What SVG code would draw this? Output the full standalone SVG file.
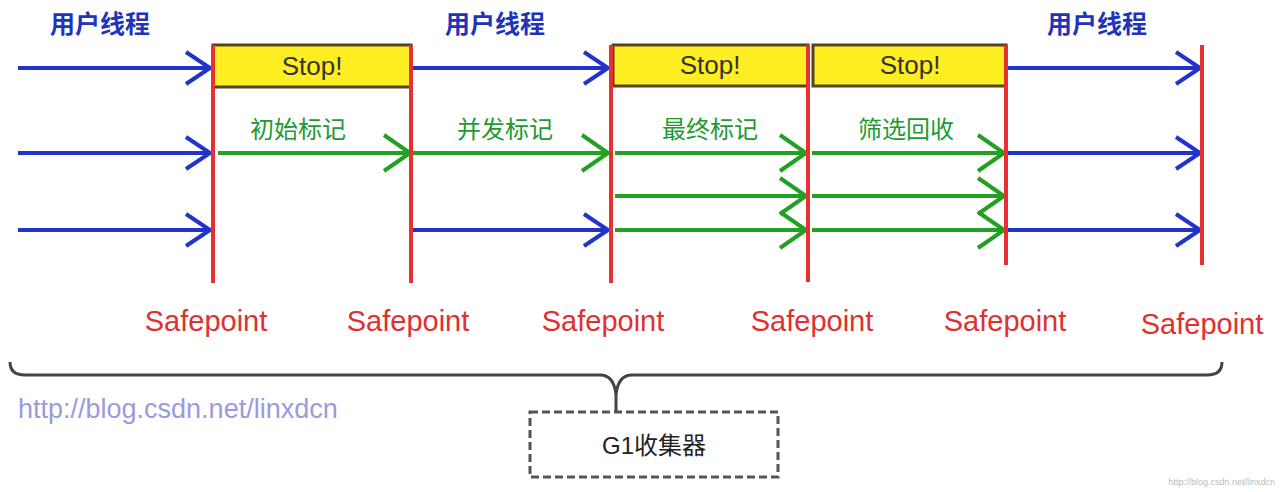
<svg xmlns="http://www.w3.org/2000/svg" width="1282" height="492" viewBox="0 0 1282 492">
<style>
.b{stroke:#2233cc;stroke-width:4;fill:none}
.g{stroke:#22a022;stroke-width:4;fill:none}
.r{stroke:#e83030;stroke-width:4}
.y{fill:#ffee22;stroke:#554422;stroke-width:3}
.t{font-family:"Liberation Sans","Noto Sans CJK SC",sans-serif}
.ut{fill:#2233bb;font-size:25px;font-weight:bold}
.gt{fill:#229933;font-size:24px}
.st{fill:#333;font-size:26px}
.sp{fill:#e03030;font-size:29px}
</style>
<defs>
<marker id="ab" markerUnits="userSpaceOnUse" markerWidth="30" markerHeight="40" refX="26" refY="18" orient="auto"><path d="M2 2 L26 18 L2 34" class="b"/></marker>
<marker id="ag" markerUnits="userSpaceOnUse" markerWidth="34" markerHeight="44" refX="28" refY="20" orient="auto"><path d="M2 2 L28 20 L2 38" class="g"/></marker>
</defs>
<g id="stops">
<rect class="y" x="213" y="45" width="198" height="42"/>
<rect class="y" x="613" y="45" width="195" height="41"/>
<rect class="y" x="813" y="45" width="193" height="41"/>
<text class="t st" x="312" y="75" text-anchor="middle">Stop!</text>
<text class="t st" x="710" y="74" text-anchor="middle">Stop!</text>
<text class="t st" x="910" y="74" text-anchor="middle">Stop!</text>
</g>
<g id="connectors">
<path class="b" marker-end="url(#ab)" d="M18 68H210"/>
<path class="b" marker-end="url(#ab)" d="M18 153H210"/>
<path class="b" marker-end="url(#ab)" d="M18 230H210"/>
<path class="b" marker-end="url(#ab)" d="M413 68H608"/>
<path class="b" marker-end="url(#ab)" d="M413 230H608"/>
<path class="b" marker-end="url(#ab)" d="M1008 68H1200"/>
<path class="b" marker-end="url(#ab)" d="M1008 153H1200"/>
<path class="b" marker-end="url(#ab)" d="M1008 230H1200"/>
<path class="g" marker-end="url(#ag)" d="M218 153H410"/>
<path class="g" marker-end="url(#ag)" d="M413 153H608"/>
<path class="g" marker-end="url(#ag)" d="M615 153H806"/>
<path class="g" marker-end="url(#ag)" d="M812 153H1004"/>
<path class="g" marker-end="url(#ag)" d="M615 196H806"/>
<path class="g" marker-end="url(#ag)" d="M812 196H1004"/>
<path class="g" marker-end="url(#ag)" d="M615 230H806"/>
<path class="g" marker-end="url(#ag)" d="M812 230H1004"/>
</g>
<g id="safepoints">
<line class="r" x1="213" y1="45" x2="213" y2="283"/>
<line class="r" x1="411" y1="45" x2="411" y2="283"/>
<line class="r" x1="611" y1="45" x2="611" y2="283"/>
<line class="r" x1="808" y1="45" x2="808" y2="282"/>
<line class="r" x1="1006" y1="45" x2="1006" y2="265"/>
<line class="r" x1="1202" y1="45" x2="1202" y2="265"/>
</g>
<g class="t">
<text class="ut" x="100" y="33" text-anchor="middle">用户线程</text>
<text class="ut" x="495" y="33" text-anchor="middle">用户线程</text>
<text class="ut" x="1097" y="33" text-anchor="middle">用户线程</text>
<text class="gt" x="298" y="138" text-anchor="middle">初始标记</text>
<text class="gt" x="505" y="138" text-anchor="middle">并发标记</text>
<text class="gt" x="710" y="138" text-anchor="middle">最终标记</text>
<text class="gt" x="906" y="138" text-anchor="middle">筛选回收</text>
<text class="sp" x="206" y="331" text-anchor="middle">Safepoint</text>
<text class="sp" x="408" y="331" text-anchor="middle">Safepoint</text>
<text class="sp" x="603" y="331" text-anchor="middle">Safepoint</text>
<text class="sp" x="812" y="331" text-anchor="middle">Safepoint</text>
<text class="sp" x="1005" y="331" text-anchor="middle">Safepoint</text>
<text class="sp" x="1202" y="334" text-anchor="middle">Safepoint</text>
<text x="18" y="418" fill="#9a9ae0" font-size="27">http://blog.csdn.net/linxdcn</text>
<text x="1275" y="485" fill="#bbb" font-size="9" text-anchor="end">http://blog.csdn.net/linxdcn</text>
</g>
<path id="brace" d="M10 362 Q10 375 25 375 H600 Q614 375 616 395 V412 M1222 362 Q1222 375 1207 375 H632 Q618 375 616 395" fill="none" stroke="#444" stroke-width="3"/>
<g id="g1">
<rect x="530" y="412" width="248" height="65" fill="none" stroke="#555" stroke-width="3" stroke-dasharray="8 4"/>
<text class="t" x="654" y="454" text-anchor="middle" font-size="24" fill="#222">G1收集器</text>
</g>
</svg>
